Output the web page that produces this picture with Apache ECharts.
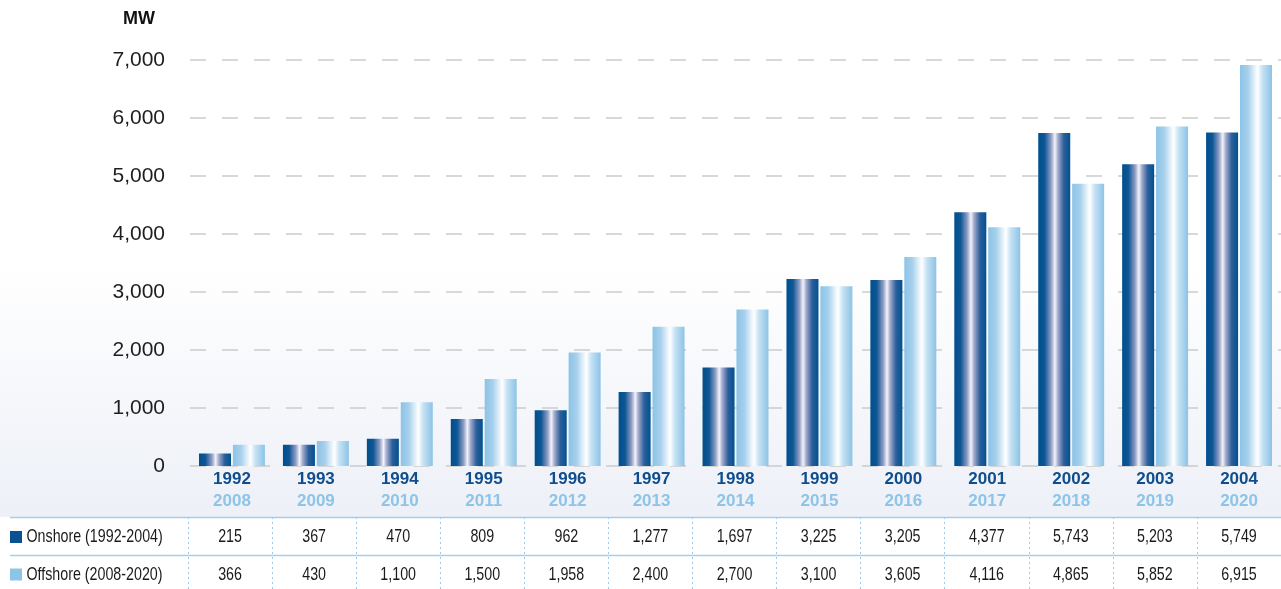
<!DOCTYPE html>
<html>
<head>
<meta charset="utf-8">
<script src="https://cdn.jsdelivr.net/npm/echarts@6/dist/echarts.min.js"></script>
<style>
html,body{margin:0;padding:0;background:#fff;}
#c{width:1281px;height:589px;}
</style>
</head>
<body>
<div id="c"></div>
<script>
// Data
var onshoreYears = ['1992','1993','1994','1995','1996','1997','1998','1999','2000','2001','2002','2003','2004'];
var offshoreYears = ['2008','2009','2010','2011','2012','2013','2014','2015','2016','2017','2018','2019','2020'];
var onshore = [215, 367, 470, 809, 962, 1277, 1697, 3225, 3205, 4377, 5743, 5203, 5749];
var offshore = [366, 430, 1100, 1500, 1958, 2400, 2700, 3100, 3605, 4116, 4865, 5852, 6915];
var seriesNames = ['Onshore (1992-2004)', 'Offshore (2008-2020)'];
var seriesSwatch = ['#0a5192', '#8dc4e7'];
var yTicks = {min: 0, max: 7000, interval: 1000};

function fmt(v){ return Number(v).toLocaleString('en-US'); }

var chart = echarts.init(document.getElementById('c'), null, {renderer: 'canvas'});
var G = echarts.graphic.LinearGradient;
var onGrad = new G(0,0,1,0,[
  {offset:0,color:'#004f8e'},{offset:0.2,color:'#0f5694'},{offset:0.4,color:'#8e9cc4'},
  {offset:0.52,color:'#f3f3f9'},{offset:0.62,color:'#9fa9cc'},{offset:0.8,color:'#2c5f9b'},{offset:1,color:'#00528f'}]);
var offGrad = new G(0,0,1,0,[
  {offset:0,color:'#8cc3e6'},{offset:0.25,color:'#a6d0ec'},{offset:0.45,color:'#e2f0f9'},
  {offset:0.55,color:'#ffffff'},{offset:0.7,color:'#c6e2f4'},{offset:1,color:'#8cc3e6'}]);

var sans = "'Liberation Sans', Arial, Helvetica, sans-serif";
var rowFontSize = 19, rowScale = 0.75;
var rowY = [537, 574.5];

var option = {
  animation: false,
  backgroundColor: new G(0,0,0,1,[
    {offset:0,color:'#ffffff'},{offset:0.45,color:'#ffffff'},
    {offset:0.877,color:'#edf0f7'},{offset:0.878,color:'#ffffff'},{offset:1,color:'#ffffff'}]),
  grid: [
    {left: 190, top: 60, width: 1101, height: 406, containLabel: false},
    {left: 188, top: 517, width: 1101, height: 72, containLabel: false}
  ],
  xAxis: [
    {
      type: 'category', gridIndex: 0, data: onshoreYears, position: 'bottom',
      axisLine: {show: false}, axisTick: {show: false},
      axisLabel: {
        interval: 0, margin: 3,
        formatter: function(v, i){ return '{a|' + v + '}\n{b|' + offshoreYears[i] + '}'; },
        rich: {
          a: {fontFamily: sans, fontWeight: 'bold', fontSize: 17, color: '#0f4d8c', lineHeight: 21.5},
          b: {fontFamily: sans, fontWeight: 'bold', fontSize: 17, color: '#8dc4e7', lineHeight: 21.5}
        }
      }
    },
    {
      type: 'category', gridIndex: 1, data: onshoreYears,
      axisLine: {show: false}, axisTick: {show: false}, axisLabel: {show: false},
      splitLine: {show: true, interval: 0, lineStyle: {type: [2,3], color: '#9cc8e9', width: 1}}
    }
  ],
  yAxis: [
    {
      type: 'value', gridIndex: 0, min: yTicks.min, max: yTicks.max, interval: yTicks.interval,
      name: 'MW', nameLocation: 'end', nameGap: 32,
      nameTextStyle: {fontFamily: sans, fontWeight: 'bold', fontSize: 18, color: '#111', align: 'right', padding: [0, 35, 0, 0]},
      axisLine: {show: false}, axisTick: {show: false},
      axisLabel: {margin: 25, fontFamily: sans, fontSize: 21, color: '#1e1e1e', formatter: function(v){ return fmt(v); }},
      splitLine: {show: true, lineStyle: {type: [16,16], color: '#cccccc', width: 1.5}}
    },
    {type: 'value', gridIndex: 1, show: false, splitLine: {show: false}}
  ],
  series: [
    {name: seriesNames[0], type: 'bar', xAxisIndex: 0, yAxisIndex: 0, data: onshore,
      barWidth: 32, barGap: '6%', itemStyle: {color: onGrad}},
    {name: seriesNames[1], type: 'bar', xAxisIndex: 0, yAxisIndex: 0, data: offshore,
      barWidth: 32, barGap: '6%', itemStyle: {color: offGrad}}
  ]
};
chart.setOption(option);

// Table: rows built from the data arrays, x positions from the category axis
var graphics = [
  {type: 'line', z: 50, shape: {x1: 10, y1: 517.5, x2: 1281, y2: 517.5}, style: {stroke: '#a9cde9', lineWidth: 1.5}},
  {type: 'line', z: 50, shape: {x1: 10, y1: 555.5, x2: 1281, y2: 555.5}, style: {stroke: '#a9cde9', lineWidth: 1.5}}
];
var rows = [onshore, offshore];
rows.forEach(function(arr, r){
  graphics.push({type: 'rect', z: 50, shape: {x: 10, y: rowY[r] - 6, width: 12, height: 12}, style: {fill: seriesSwatch[r]}});
  graphics.push({type: 'text', z: 50, x: 26.5, y: rowY[r], scaleX: rowScale,
    style: {text: seriesNames[r], font: rowFontSize + 'px ' + sans, fill: '#1a1a1a', textAlign: 'left', textVerticalAlign: 'middle'}});
  arr.forEach(function(v, i){
    var px = chart.convertToPixel({xAxisIndex: 1}, i);
    graphics.push({type: 'text', z: 50, x: px, y: rowY[r], scaleX: rowScale,
      style: {text: fmt(v), font: rowFontSize + 'px ' + sans, fill: '#1a1a1a', textAlign: 'center', textVerticalAlign: 'middle'}});
  });
});
chart.setOption({graphic: graphics});
</script>
</body>
</html>
